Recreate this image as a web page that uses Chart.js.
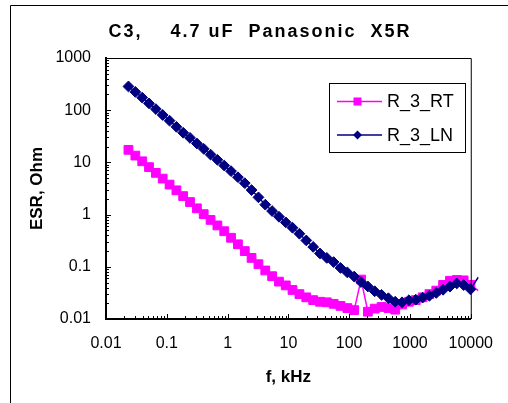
<!DOCTYPE html>
<html>
<head>
<meta charset="utf-8">
<script src="https://cdn.jsdelivr.net/npm/chart.js@4.4.1/dist/chart.umd.min.js"></script>
<style>
  html, body { margin: 0; padding: 0; background: #fff; }
  canvas { display: block; }
</style>
</head>
<body>
<canvas id="grafico" width="508" height="403"></canvas>
<script>
// frecuencia en kHz
const freq = [
  0.0234, 0.0304, 0.0394, 0.051, 0.0661, 0.0856, 0.111, 0.144, 0.186, 0.241,
  0.313, 0.405, 0.525, 0.68, 0.881, 1.14, 1.48, 1.92, 2.48, 3.22,
  4.17, 5.4, 7.0, 9.07, 11.7, 15.2, 19.7, 25.6, 33.1, 42.9,
  55.6, 72.1, 93.3, 121, 157, 203, 263, 341, 442, 572,
  741, 961, 1245, 1614, 2090, 2710, 3510, 4550, 5890, 7640,
  9890, 13300
];
// ESR en Ohm
const esrRT = [
  17.4, 13.5, 10.5, 8.1, 6.3, 4.9, 3.76, 2.92, 2.26, 1.74,
  1.32, 1.02, 0.79, 0.62, 0.48, 0.36, 0.27, 0.2, 0.148, 0.112,
  0.085, 0.066, 0.052, 0.044, 0.036, 0.03, 0.026, 0.023, 0.0214, 0.0209,
  0.0195, 0.0178, 0.0162, 0.0148, 0.057, 0.0138, 0.0158, 0.017, 0.0162, 0.0151,
  0.019, 0.0214, 0.023, 0.026, 0.03, 0.035, 0.045, 0.054, 0.056, 0.055,
  0.045, 0.035
];
const esrLN = [
  285, 224, 174, 135, 105, 81, 63, 48, 37, 29.5,
  23, 18.2, 14.1, 11.2, 8.7, 6.8, 5.2, 4.0, 2.95, 2.14,
  1.55, 1.17, 0.91, 0.71, 0.56, 0.43, 0.32, 0.24, 0.18, 0.148,
  0.123, 0.095, 0.078, 0.065, 0.051, 0.042, 0.034, 0.029, 0.025, 0.0214,
  0.0209, 0.0229, 0.0234, 0.0257, 0.0279, 0.0316, 0.0363, 0.0417, 0.048, 0.0447,
  0.037, 0.063
];
const serieNames = ['R_3_RT', 'R_3_LN'];
const xTicks = [0.01, 0.1, 1, 10, 100, 1000, 10000];
const xTickLabels = ['0.01', '0.1', '1', '10', '100', '1000', '10000'];
const yTicks = [0.01, 0.1, 1, 10, 100, 1000];
const yTickLabels = ['0.01', '0.1', '1', '10', '100', '1000'];
const titulo = 'C3,    4.7 uF  Panasonic  X5R';

const FAMILIA = '"Liberation Sans", Arial, sans-serif';
const ROSA = '#FF00FF';
const AZUL = '#000080';

const toPoints = arr => freq.map((f, i) => ({ x: f, y: arr[i] }));
const radio = r => c => (c.raw && c.raw.x > 10000 ? 0 : r);

const decorado = {
  id: 'decorado',
  beforeDraw(chart) {
    const c = chart.ctx;
    c.save();
    c.strokeStyle = '#000';
    c.lineWidth = 1;
    c.beginPath();
    c.moveTo(10.5, 403);
    c.lineTo(10.5, 5.5);
    c.lineTo(508, 5.5);
    c.stroke();
    // titulo
    c.fillStyle = '#000';
    c.font = 'bold 18px ' + FAMILIA;
    c.letterSpacing = '2px';
    c.textAlign = 'center';
    c.textBaseline = 'alphabetic';
    c.fillText(titulo, 260, 37);
    c.restore();
  },
  afterDraw(chart) {
    const { ctx: c, chartArea: a, scales: { x, y } } = chart;
    c.save();
    c.strokeStyle = '#000';
    c.lineWidth = 1;
    c.beginPath();
    c.moveTo(a.left, a.top + 0.5);
    c.lineTo(a.right + 0.5, a.top + 0.5);
    c.lineTo(a.right + 0.5, a.bottom);
    // marcas hacia adentro
    for (let d = -2; d <= 4; d++) {
      for (let m = 1; m < 10; m++) {
        if (d === 4 && m > 1) break;
        const v = m * Math.pow(10, d);
        const px = Math.round(x.getPixelForValue(v)) + 0.5;
        const len = m === 1 ? 5 : 3;
        c.moveTo(px, a.bottom);
        c.lineTo(px, a.bottom - len);
      }
    }
    for (let d = -2; d <= 3; d++) {
      for (let m = 1; m < 10; m++) {
        if (d === 3 && m > 1) break;
        const v = m * Math.pow(10, d);
        const py = Math.round(y.getPixelForValue(v)) + 0.5;
        const len = m === 1 ? 5 : 3;
        c.moveTo(a.left, py);
        c.lineTo(a.left + len, py);
      }
    }
    c.stroke();

    // leyenda
    const lx = 329.5, ly = 83.5, lw = 136, lh = 69;
    c.fillStyle = '#fff';
    c.fillRect(lx, ly, lw, lh);
    c.strokeRect(lx, ly, lw, lh);
    const items = [
      { name: serieNames[0], color: ROSA, style: 'rect', y: 101.5 },
      { name: serieNames[1], color: AZUL, style: 'diamond', y: 135 }
    ];
    c.font = '18px ' + FAMILIA;
    c.textBaseline = 'middle';
    c.textAlign = 'left';
    items.forEach(it => {
      c.strokeStyle = it.color;
      c.lineWidth = 1.5;
      c.beginPath();
      c.moveTo(337, it.y);
      c.lineTo(382, it.y);
      c.stroke();
      c.fillStyle = it.color;
      c.beginPath();
      if (it.style === 'rect') {
        c.rect(357.5 - 4, it.y - 4, 8, 8);
      } else {
        c.moveTo(357.5, it.y - 4.5);
        c.lineTo(362, it.y);
        c.lineTo(357.5, it.y + 4.5);
        c.lineTo(353, it.y);
        c.closePath();
      }
      c.fill();
      c.fillStyle = '#000';
      c.fillText(it.name, 387, it.y + 1);
    });
    c.restore();
  }
};

const ctx = document.getElementById('grafico').getContext('2d');

new Chart(ctx, {
  type: 'line',
  data: {
    datasets: [
      {
        label: serieNames[1],
        data: toPoints(esrLN),
        borderColor: AZUL,
        backgroundColor: AZUL,
        pointBackgroundColor: AZUL,
        pointBorderColor: AZUL,
        pointStyle: 'rectRot',
        pointRadius: radio(5.4),
        pointBorderWidth: 1,
        borderWidth: 1.5,
        tension: 0,
        clip: { left: 0, top: 0, right: 8, bottom: 0 }
      },
      {
        label: serieNames[0],
        data: toPoints(esrRT),
        borderColor: ROSA,
        backgroundColor: ROSA,
        pointBackgroundColor: ROSA,
        pointBorderColor: ROSA,
        pointStyle: 'rect',
        pointRadius: radio(6.2),
        pointBorderWidth: 1,
        borderWidth: 1.5,
        tension: 0,
        clip: { left: 0, top: 0, right: 8, bottom: 0 }
      }
    ]
  },
  options: {
    responsive: false,
    animation: false,
    layout: { padding: { left: 10, right: 29, top: 58, bottom: 0 } },
    plugins: {
      legend: { display: false },
      tooltip: { enabled: false },
      title: { display: false }
    },
    scales: {
      x: {
        type: 'logarithmic',
        min: 0.01,
        max: 10000,
        afterBuildTicks: s => { s.ticks = xTicks.map(v => ({ value: v })); },
        afterFit: s => { s.height = 84; },
        grid: { display: false, drawTicks: false },
        border: { display: true, color: '#000', width: 2 },
        ticks: {
          autoSkip: false,
          maxRotation: 0,
          padding: 15,
          color: '#000',
          font: { family: FAMILIA, size: 16 },
          callback: v => xTickLabels[xTicks.indexOf(v)] ?? ''
        },
        title: {
          display: true,
          text: 'f, kHz',
          color: '#000',
          font: { family: FAMILIA, size: 17, weight: 'bold' },
          padding: { top: 0, bottom: 15 }
        }
      },
      y: {
        type: 'logarithmic',
        min: 0.01,
        max: 1000,
        afterBuildTicks: s => { s.ticks = yTicks.map(v => ({ value: v })); },
        afterFit: s => { s.width = 96; },
        grid: { display: false, drawTicks: false },
        border: { display: true, color: '#000', width: 2 },
        ticks: {
          autoSkip: false,
          padding: 15,
          color: '#000',
          font: { family: FAMILIA, size: 16 },
          callback: v => yTickLabels[yTicks.indexOf(v)] ?? ''
        },
        title: {
          display: true,
          text: 'ESR, Ohm',
          color: '#000',
          font: { family: FAMILIA, size: 17, weight: 'bold' },
          padding: { top: 17, bottom: 0 }
        }
      }
    }
  },
  plugins: [decorado]
});
</script>
</body>
</html>
